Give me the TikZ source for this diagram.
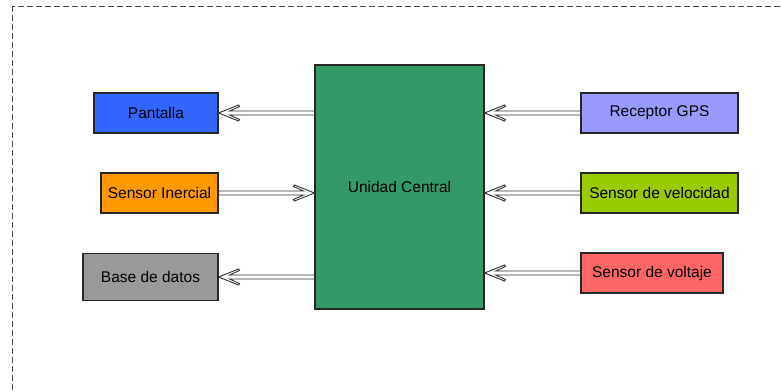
\documentclass[tikz,border=0pt]{standalone}
\usepackage{fontspec}
\setmainfont{Liberation Sans}
\usepackage[dvipsnames]{xcolor}
\usetikzlibrary{calc}

\definecolor{azul}{HTML}{3366FF}
\definecolor{naranja}{HTML}{FF9900}
\definecolor{gris}{HTML}{999999}
\definecolor{verde}{HTML}{339966}
\definecolor{lila}{HTML}{9999FF}
\definecolor{lima}{HTML}{99CC00}
\definecolor{rojo}{HTML}{FF6666}

\begin{document}
\begin{tikzpicture}
[x=1pt,y=-1pt,
bloque/.style={draw=black!85,line width=1.1pt,minimum height=40pt,
inner sep=0pt,font=\fontsize{15.5}{18}\selectfont},
% flecha hueca: cuerpo doble y punta abierta
flecha/.style={draw=black!80,fill=white,line width=0.9pt,line join=miter,
to path={let \p1=(\tikztostart), \p2=(\tikztotarget), \n1={sign(\x1-\x2)} in
(\tikztotarget) -- ++(20*\n1,-8) -- ++(\n1,1.5) -- ++(-10*\n1,4.5)
-- ([yshift=2pt]\x1,\y2) -- ([yshift=-2pt]\x1,\y2)
-- ([xshift=11*\n1,yshift=-2pt]\x2,\y2) -- ++(10*\n1,4.5) -- ++(-\n1,1.5) -- cycle}}]
\useasboundingbox (0,0) rectangle (781,391);
\clip (0,0) rectangle (781,391);
\draw[black!70,line width=1pt,dash pattern=on 6pt off 3pt] (12,6) rectangle (810,420);

\node[bloque,fill=verde,minimum width=169pt,minimum height=244pt] (central) at (399.5,187) {Unidad Central};

\node[bloque,fill=azul,minimum width=124pt] (pantalla) at (156,113) {Pantalla};
\node[bloque,fill=naranja,minimum width=117pt] (inercial) at (159.5,193) {Sensor Inercial};
\node[bloque,fill=gris,minimum width=135pt,minimum height=47pt] (datos) at (150.5,277) {Base de datos};

\node[bloque,fill=lila,minimum width=157pt] (gps) at (659.5,113) {Receptor GPS};
\node[bloque,fill=lima,minimum width=157pt] (velocidad) at (659.5,193) {Sensor de velocidad};
\node[bloque,fill=rojo,minimum width=142pt] (voltaje) at (652,273) {Sensor de voltaje};

\draw[flecha] (central.west |- pantalla.east) to (pantalla.east);
\draw[flecha] (inercial.east) to (central.west |- inercial.east);
\draw[flecha] (central.west |- datos.east) to (datos.east);
\draw[flecha] (gps.west) to (central.east |- gps.west);
\draw[flecha] (velocidad.west) to (central.east |- velocidad.west);
\draw[flecha] (voltaje.west) to (central.east |- voltaje.west);
\end{tikzpicture}
\end{document}
